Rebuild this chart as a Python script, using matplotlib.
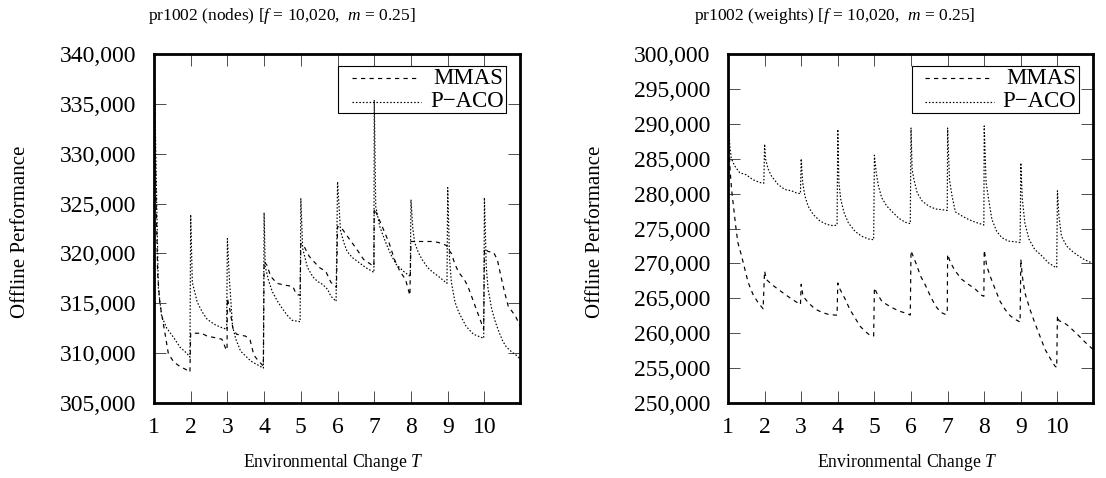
import matplotlib
matplotlib.use("Agg")
import matplotlib.pyplot as plt
from matplotlib.patches import Rectangle
from matplotlib.ticker import FuncFormatter, MultipleLocator

plt.rcParams["font.family"] = ["Liberation Serif", "DejaVu Serif"]
plt.rcParams["mathtext.fontset"] = "custom"
plt.rcParams["mathtext.rm"] = "Liberation Serif"
plt.rcParams["mathtext.it"] = "Liberation Serif:italic"

# ---- nodes panel ----
nodes_mmas_T = [1.00, 1.05, 1.10, 1.16, 1.30, 1.39, 1.53, 1.71, 1.85, 1.98,
                2.00, 2.30, 2.45, 2.60, 2.85, 2.95, 2.99,
                3.00, 3.06, 3.15, 3.25, 3.50, 3.62, 3.72, 3.85, 3.98,
                4.00, 4.08, 4.18, 4.35, 4.60, 4.78, 4.88, 4.98,
                5.00, 5.09, 5.23, 5.50, 5.68, 5.82, 5.97,
                6.00, 6.10, 6.31, 6.49, 6.71, 6.99,
                7.00, 7.10, 7.25, 7.40, 7.55, 7.70, 7.85, 7.97,
                8.00, 8.30, 8.60, 8.75, 8.97,
                9.00, 9.10, 9.20, 9.30, 9.45, 9.55, 9.65, 9.75, 9.85, 9.98,
                10.00, 10.10, 10.25, 10.35, 10.45, 10.55, 10.65, 10.75, 10.85, 10.97]
nodes_mmas = [341000, 327000, 318000, 315000, 312000, 310000, 309150, 308650, 308400, 308100,
              312000, 312000, 311700, 311600, 311400, 310500, 310300,
              315500, 314500, 312500, 311900, 311700, 311300, 309800, 309200, 308700,
              319200, 318800, 317700, 317000, 316800, 316700, 315900, 315800,
              321000, 320700, 319700, 318600, 318200, 317100, 316600,
              322700, 322600, 321500, 320600, 319400, 318700,
              324500, 323700, 322400, 321100, 319400, 318200, 317400, 315800,
              321200, 321200, 321200, 321100, 320800,
              320500, 320000, 318900, 318100, 317400, 316700, 315700, 314700, 313700, 312400,
              320500, 320200, 320100, 319400, 317700, 316100, 314700, 314200, 313700, 312700]

nodes_paco_T = [1.00, 1.06, 1.12, 1.21, 1.35, 1.53, 1.71, 1.89, 1.98,
                2.00, 2.045, 2.18, 2.32, 2.45, 2.64, 2.82, 2.98,
                3.00, 3.05, 3.14, 3.23, 3.36, 3.64, 3.98,
                4.00, 4.03, 4.12, 4.22, 4.35, 4.49, 4.63, 4.76, 4.98,
                5.00, 5.05, 5.18, 5.32, 5.45, 5.59, 5.73, 5.82, 5.96,
                6.00, 6.08, 6.17, 6.26, 6.40, 6.58, 6.76, 6.99,
                7.00, 7.04, 7.15, 7.30, 7.45, 7.60, 7.80, 7.98,
                8.00, 8.05, 8.10, 8.20, 8.30, 8.45, 8.60, 8.75, 8.98,
                9.00, 9.05, 9.10, 9.20, 9.30, 9.50, 9.70, 9.90, 9.98,
                10.00, 10.05, 10.10, 10.20, 10.30, 10.40, 10.50, 10.60, 10.75, 10.90, 10.97]
nodes_paco = [341000, 328000, 316500, 313700, 312500, 311600, 310600, 310000, 309600,
              323900, 317100, 315100, 314100, 313400, 312900, 312600, 312400,
              321500, 317700, 312700, 311400, 310200, 309200, 308500,
              324100, 318700, 317300, 316200, 315300, 314500, 313800, 313300, 313150,
              325500, 320500, 318600, 317700, 317200, 316900, 316400, 315700, 315200,
              327200, 322300, 321100, 320200, 319600, 319100, 318600, 318100,
              335400, 324700, 322700, 321200, 319900, 318900, 318200, 317700,
              325400, 322500, 321100, 320100, 319400, 318600, 318100, 317700, 317000,
              326600, 319500, 317100, 315100, 314100, 312700, 311900, 311600, 311500,
              325600, 318700, 316400, 314400, 313100, 312100, 311200, 310600, 310100, 309700, 309400]

# ---- weights panel ----
weights_mmas_T = [1.00, 1.02, 1.05, 1.10, 1.14, 1.21, 1.27, 1.37, 1.46, 1.55, 1.68, 1.82, 1.96,
                  2.00, 2.05, 2.19, 2.37, 2.55, 2.74, 2.92, 2.98,
                  3.00, 3.05, 3.19, 3.37, 3.56, 3.74, 3.92, 3.98,
                  4.00, 4.06, 4.20, 4.33, 4.47, 4.61, 4.74, 4.88, 4.98,
                  5.00, 5.06, 5.20, 5.34, 5.47, 5.66, 5.84, 5.98,
                  6.00, 6.13, 6.26, 6.40, 6.53, 6.67, 6.81, 6.94, 6.99,
                  7.00, 7.08, 7.21, 7.39, 7.57, 7.76, 7.94, 7.99,
                  8.00, 8.07, 8.16, 8.30, 8.43, 8.57, 8.71, 8.84, 8.98,
                  9.00, 9.04, 9.11, 9.25, 9.38, 9.52, 9.66, 9.79, 9.93, 9.98,
                  10.00, 10.04, 10.18, 10.31, 10.45, 10.59, 10.72, 10.86, 10.97]
weights_mmas = [301000, 289000, 284000, 280500, 278700, 275400, 273000, 271100, 269200, 267300, 265600, 264400, 263500,
                268900, 267700, 267000, 266300, 265600, 264900, 264300, 264100,
                267000, 265300, 264400, 263500, 263000, 262700, 262600, 262600,
                267200, 266300, 264900, 263400, 262200, 261000, 260300, 259700, 259600,
                266500, 265800, 264600, 264100, 263700, 263200, 262900, 262600,
                271800, 270100, 268200, 266800, 265300, 263900, 263000, 262700, 262900,
                271300, 270100, 268900, 267700, 267000, 266300, 265400, 265300,
                271900, 269600, 268200, 266300, 264600, 263400, 262500, 262000, 261600,
                270600, 268200, 265800, 263400, 261500, 259600, 257700, 256500, 255300, 255100,
                262500, 261800, 261500, 261000, 260300, 259600, 258900, 258200, 257700]

weights_paco_T = [1.00, 1.02, 1.05, 1.09, 1.18, 1.32, 1.50, 1.68, 1.87, 1.98,
                  2.00, 2.03, 2.10, 2.19, 2.37, 2.55, 2.74, 2.87, 2.98,
                  3.00, 3.04, 3.10, 3.19, 3.33, 3.51, 3.69, 3.88, 3.98,
                  4.00, 4.03, 4.08, 4.17, 4.29, 4.47, 4.65, 4.84, 4.98,
                  5.00, 5.05, 5.11, 5.20, 5.34, 5.47, 5.66, 5.84, 5.98,
                  6.00, 6.03, 6.08, 6.17, 6.31, 6.49, 6.67, 6.85, 6.99,
                  7.00, 7.05, 7.12, 7.21, 7.39, 7.57, 7.76, 7.94, 7.99,
                  8.00, 8.05, 8.12, 8.21, 8.34, 8.48, 8.66, 8.84, 8.98,
                  9.00, 9.04, 9.11, 9.22, 9.38, 9.57, 9.75, 9.93, 9.98,
                  10.00, 10.04, 10.11, 10.25, 10.39, 10.57, 10.75, 10.93, 10.97]
weights_paco = [301000, 290000, 286800, 285100, 284000, 283000, 282700, 282000, 281600, 281500,
                287100, 284900, 283500, 282500, 281300, 280600, 280400, 280100, 280000,
                285000, 281600, 279700, 278200, 277000, 276100, 275600, 275400, 275500,
                289200, 281600, 279200, 277300, 275800, 274600, 273900, 273500, 273400,
                285500, 283000, 281100, 279400, 278200, 277500, 276500, 275900, 275700,
                289400, 283500, 282000, 280100, 278900, 278200, 277800, 277700, 277600,
                289400, 282000, 279700, 277400, 276800, 276300, 275900, 275600, 275500,
                289700, 281600, 279200, 276300, 274600, 273700, 273200, 273100, 273000,
                284400, 279200, 275800, 273500, 272000, 271100, 270100, 269500, 269400,
                280400, 276800, 273900, 272500, 271800, 271100, 270500, 270100, 270000]

titles = [r"pr1002 (nodes) [$f$ = 10,020,  $m$ = 0.25]",
          r"pr1002 (weights) [$f$ = 10,020,  $m$ = 0.25]"]
labels = ["MMAS", "P\u2212ACO"]

DASH = (3.6, 3.6)
DOT = (1.3, 1.6)


def draw_panel(ax, T_a, y_a, T_b, y_b, ylim, title, title_x):
    ax.plot(T_a, y_a, color="black", lw=0.85, dashes=DASH)
    ax.plot(T_b, y_b, color="black", lw=0.85, dashes=DOT)
    ax.set_xlim(1, 10.97)
    ax.set_ylim(*ylim)
    ax.xaxis.set_major_locator(MultipleLocator(1))
    ax.yaxis.set_major_locator(MultipleLocator(5000))
    ax.yaxis.set_major_formatter(FuncFormatter(lambda v, p: f"{int(round(v)):,}"))
    ax.tick_params(direction="in", length=8.5, width=0.7, color="0.3",
                   top=True, right=True, labelsize=17)
    ax.tick_params(axis="y", pad=13)
    ax.tick_params(axis="x", pad=10)
    for s in ax.spines.values():
        s.set_linewidth(2.0)
    ax.set_xlabel("Environmental Change $T$", fontsize=12.7)
    ax.set_ylabel("Offline Performance", fontsize=15)
    ax.xaxis.set_label_coords(0.49, -0.141)
    ax.yaxis.set_label_coords(-0.338, 0.49)

    # gnuplot-style key: samples on the left, right-aligned text
    ax.add_patch(Rectangle((0.503, 0.830), 0.459, 0.136, transform=ax.transAxes,
                           fill=False, edgecolor="black", lw=0.8, zorder=5))
    ax.plot([0.540, 0.721], [0.931, 0.931], transform=ax.transAxes,
            color="black", lw=0.85, dashes=DASH, zorder=5)
    ax.plot([0.540, 0.730], [0.863, 0.863], transform=ax.transAxes,
            color="black", lw=0.85, dashes=DOT, zorder=5)
    ax.text(0.955, 0.931, labels[0], transform=ax.transAxes, ha="right",
            va="center", fontsize=16.5)
    ax.text(0.955, 0.863, labels[1], transform=ax.transAxes, ha="right",
            va="center", fontsize=16.5)

    ax.figure.text(title_x, 0.966, title, ha="center", va="center", fontsize=12.5)


fig = plt.figure(figsize=(11.06, 4.78), dpi=100)
ax1 = fig.add_axes([0.1392, 0.1569, 0.331, 0.730])
ax2 = fig.add_axes([0.6582, 0.1569, 0.330, 0.730])

draw_panel(ax1, nodes_mmas_T, nodes_mmas, nodes_paco_T, nodes_paco,
           (305000, 340000), titles[0], 0.255)
draw_panel(ax2, weights_mmas_T, weights_mmas, weights_paco_T, weights_paco,
           (250000, 300000), titles[1], 0.755)

fig.savefig("out.png", dpi=100)
